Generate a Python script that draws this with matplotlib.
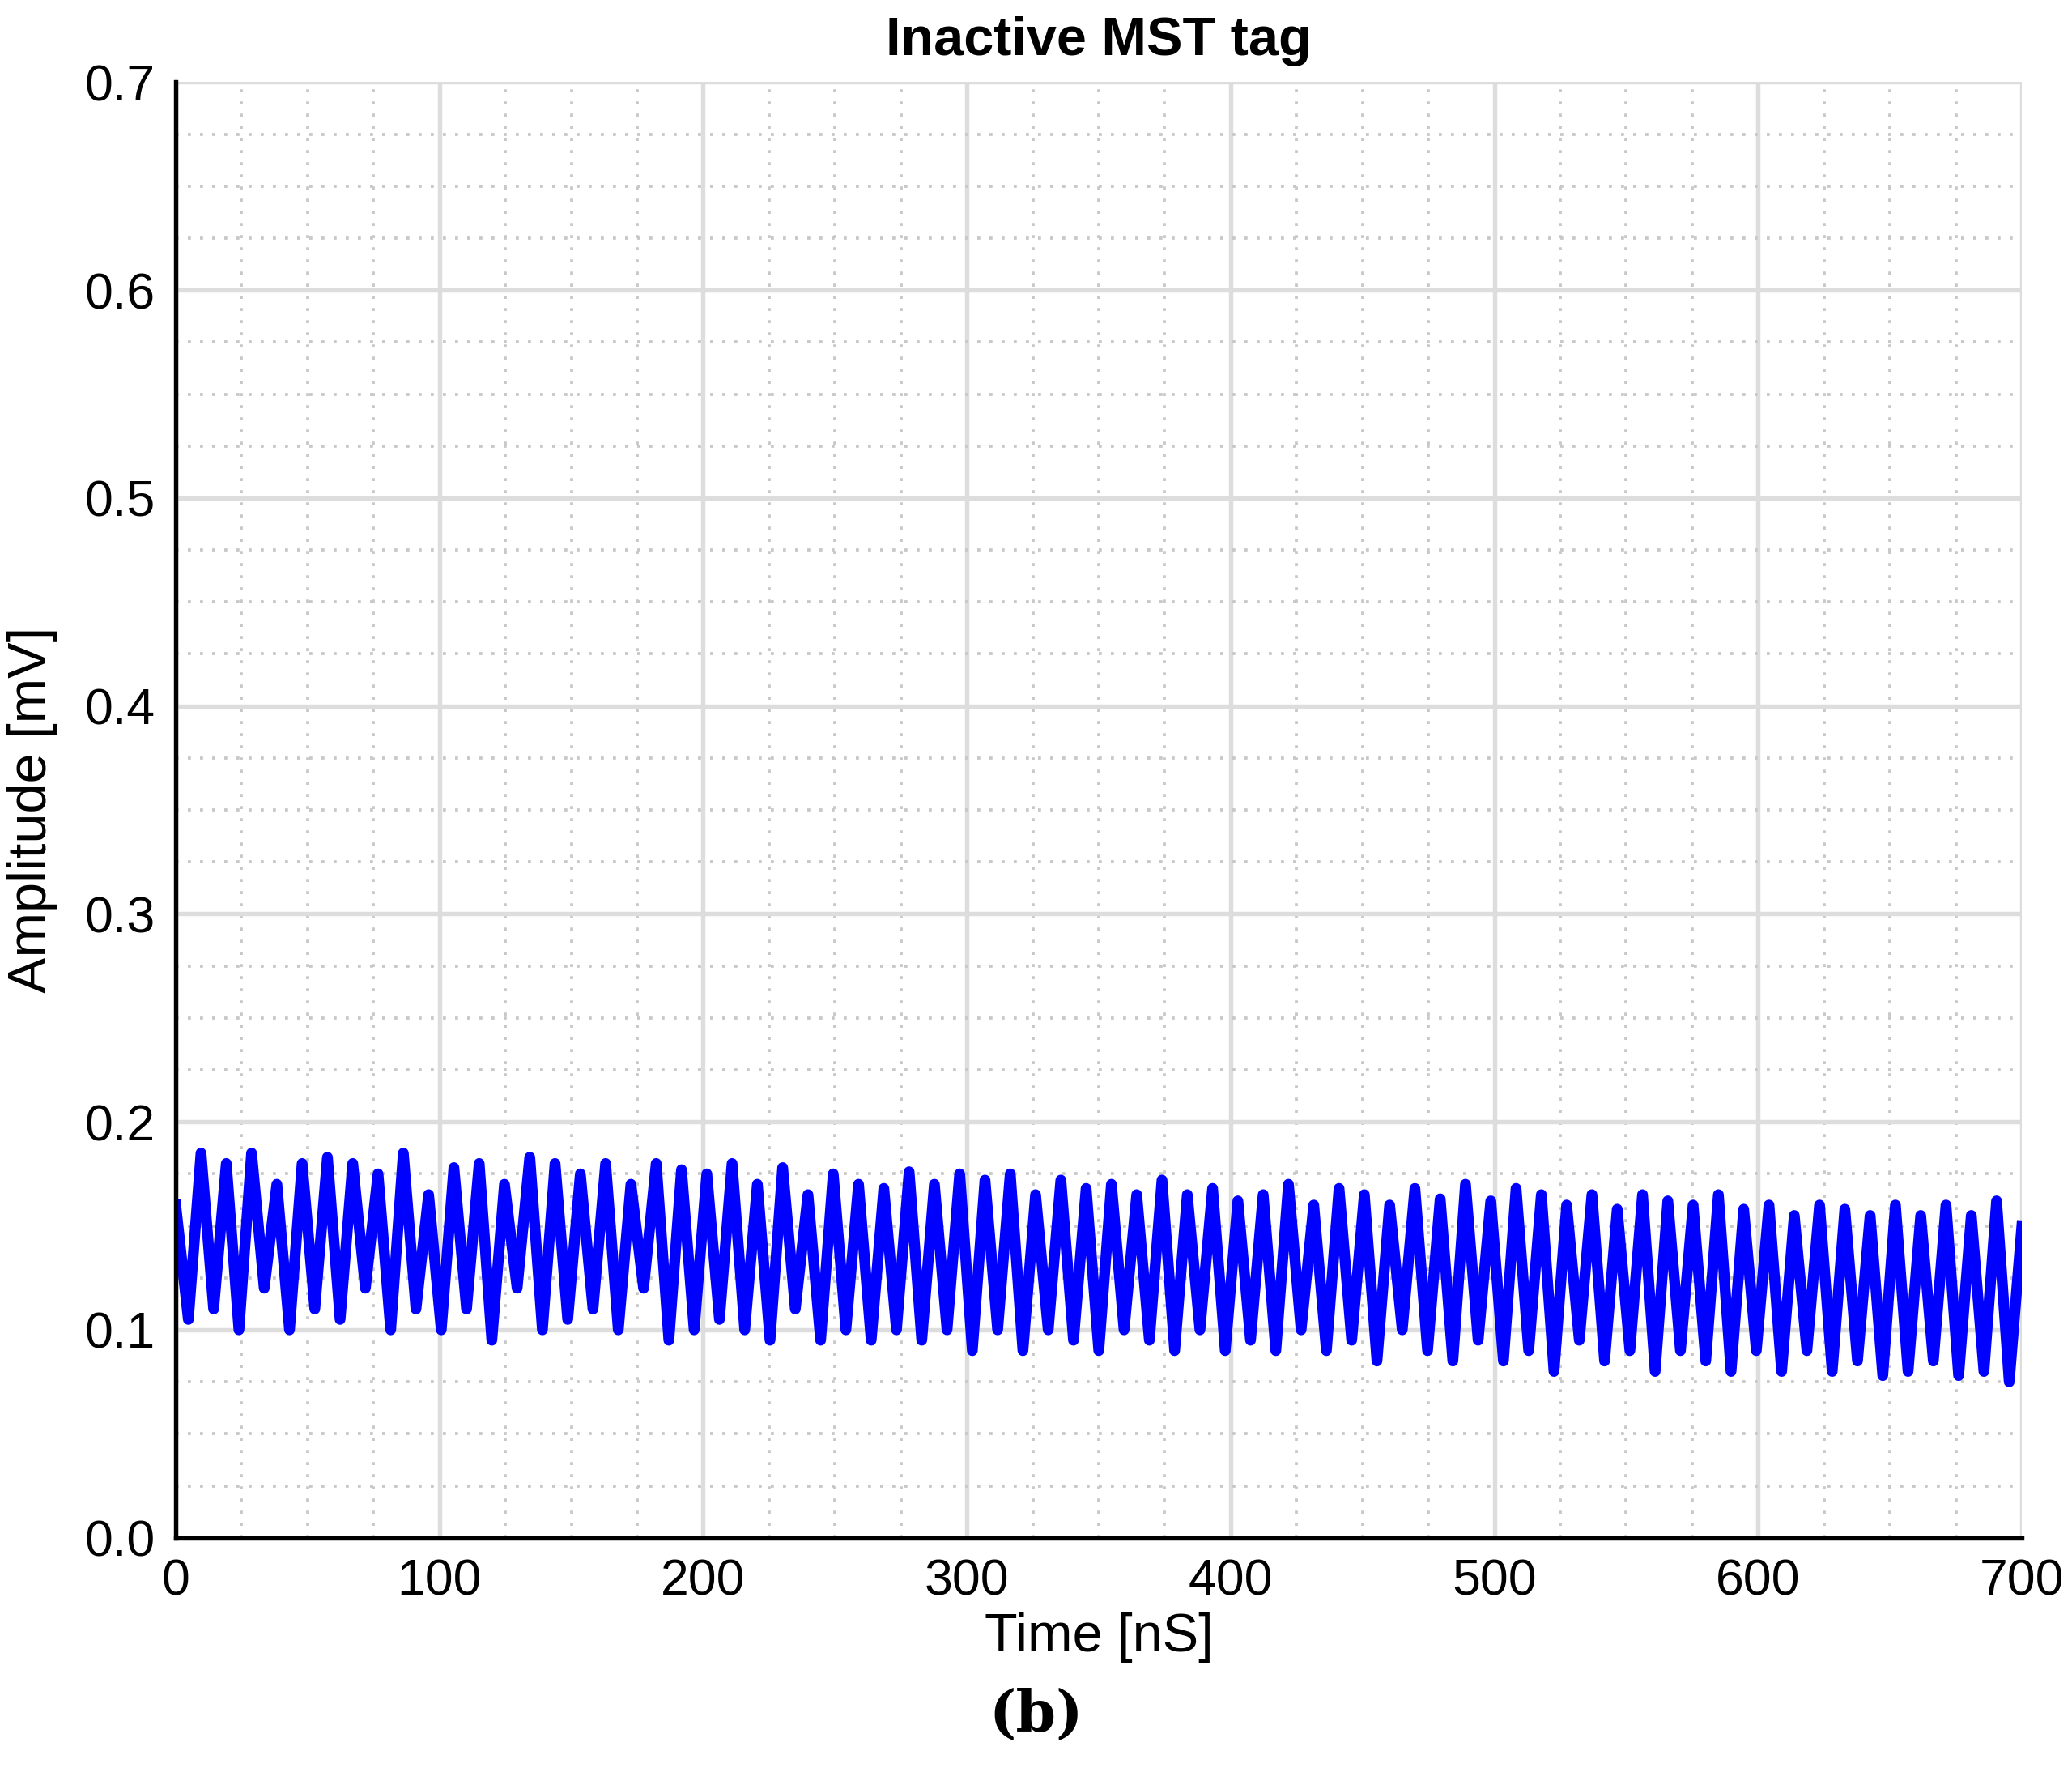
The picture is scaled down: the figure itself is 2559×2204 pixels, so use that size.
import matplotlib
matplotlib.use("Agg")
import matplotlib.pyplot as plt
import numpy as np
from matplotlib.ticker import MultipleLocator

amplitude = [
0.16,0.105,0.185,0.11,0.18,0.10,0.185,0.12,0.17,0.10,0.18,0.11,0.183,0.105,0.18,0.12,0.175,0.10,0.185,0.11,0.165,
0.10,0.178,0.11,0.18,0.095,0.17,0.12,0.183,0.10,0.18,0.105,0.175,0.11,0.18,0.10,0.17,0.12,0.18,0.095,0.177,0.10,
0.175,0.105,0.18,0.10,0.17,0.095,0.178,0.11,0.165,0.095,0.175,0.10,0.17,0.095,0.168,0.10,0.176,0.095,0.17,0.10,0.175,
0.09,0.172,0.10,0.175,0.09,0.165,0.10,0.172,0.095,0.168,0.09,0.17,0.10,0.165,0.095,0.172,0.09,0.165,0.10,0.168,0.09,
0.162,0.095,0.165,0.09,0.17,0.10,0.16,0.09,0.168,0.095,0.165,0.085,0.16,0.10,0.168,0.09,0.163,0.085,0.17,0.095,0.162,
0.085,0.168,0.09,0.165,0.08,0.16,0.095,0.165,0.085,0.158,0.09,0.165,0.08,0.162,0.09,0.16,0.085,0.165,0.08,0.158,0.09,
0.16,0.08,0.155,0.09,0.16,0.08,0.158,0.085,0.155,0.078,0.16,0.08,0.155,0.085,0.16,0.078,0.155,0.08,0.162,0.075,0.15]
time = np.linspace(0, 700, len(amplitude))

plt.rcParams['font.family'] = ['Liberation Sans', 'DejaVu Sans']
fig = plt.figure(figsize=(2559/300, 2204/300), dpi=300)
ax = fig.add_axes([0.0848, 0.1385, 0.891, 0.8155])
ax.plot(time, amplitude, color='#0000ff', lw=3.2)
ax.set_xlim(0, 700); ax.set_ylim(0, 0.7)
ax.xaxis.set_major_locator(MultipleLocator(100))
ax.yaxis.set_major_locator(MultipleLocator(0.1))
ax.xaxis.set_minor_locator(MultipleLocator(25))
ax.yaxis.set_minor_locator(MultipleLocator(0.025))
ax.yaxis.set_major_formatter(matplotlib.ticker.FormatStrFormatter('%.1f'))
ax.grid(which='major', color='#dddddd', lw=1.3)
ax.grid(which='minor', color='#c8c8c8', lw=0.9, ls=(0, (1, 3)))
ax.set_axisbelow(True)
ax.tick_params(which='both', direction='in', labelsize=15, length=0, pad=6)
for s in ['top', 'right']:
    ax.spines[s].set_visible(False)
for s in ['left', 'bottom']:
    ax.spines[s].set_linewidth(1.3)
ax.set_xlabel('Time [nS]', fontsize=16, labelpad=2)
ax.set_ylabel('Amplitude [mV]', fontsize=16, labelpad=8)
ax.set_title('Inactive MST tag', fontsize=16, fontweight='bold', pad=8)
fig.text(0.5, 0.03, '(b)', ha='center', fontsize=17, fontweight='bold', family='DejaVu Serif')
fig.savefig('out.png', dpi=300)
